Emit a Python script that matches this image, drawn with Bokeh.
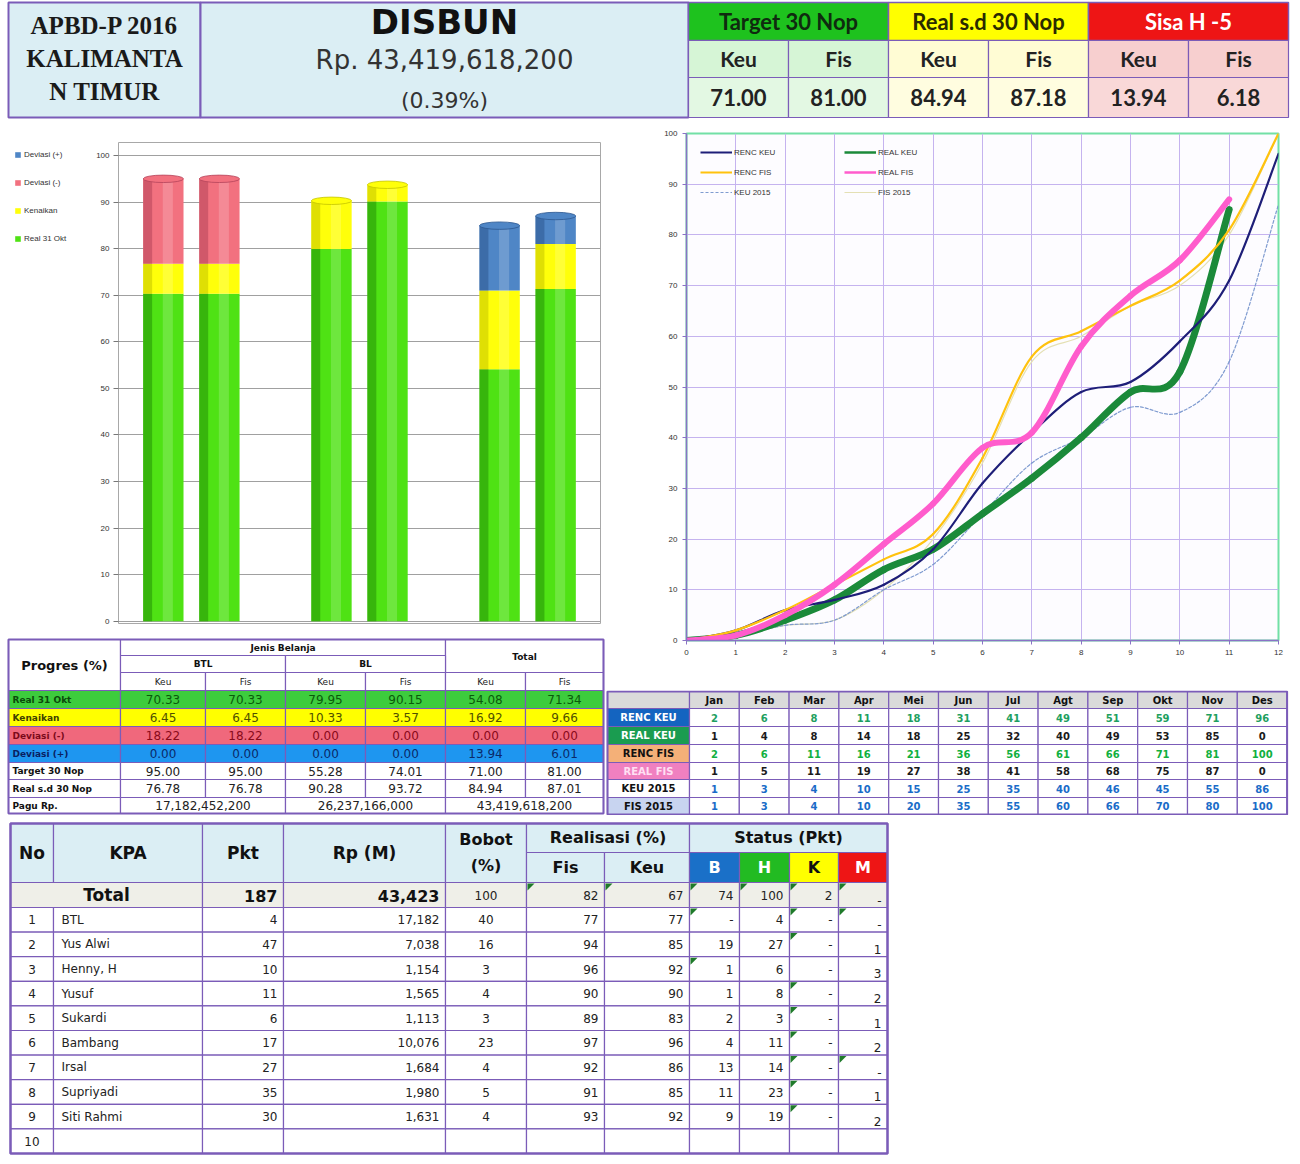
from bokeh.plotting import figure
from bokeh.layouts import column, row
from bokeh.models import (ColumnDataSource, FactorRange, Range1d, FixedTicker,
                          Legend, LegendItem)
from bokeh.core.properties import value
from bokeh.embed import file_html
from bokeh.resources import INLINE

# ---------------- DATA ----------------
title_left = ["APBD-P 2016", "KALIMANTA", "N TIMUR"]
title_main = "DISBUN"
pagu_text = "Rp. 43,419,618,200"
pagu_pct = "(0.39%)"
kpi_groups = ["Target 30 Nop", "Real s.d 30 Nop", "Sisa H -5"]
kpi_sub = ["Keu", "Fis"]
kpi_values = [[71.00, 81.00], [84.94, 87.18], [13.94, 6.18]]

groups = ["BTL", "BL", "Total"]
kinds = ["Keu", "Fis"]
real_31okt = [70.33, 70.33, 79.95, 90.15, 54.08, 71.34]
kenaikan = [6.45, 6.45, 10.33, 3.57, 16.92, 9.66]
deviasi_min = [18.22, 18.22, 0.00, 0.00, 0.00, 0.00]
deviasi_plus = [0.00, 0.00, 0.00, 0.00, 13.94, 6.01]
target_30nop = [95.00, 95.00, 55.28, 74.01, 71.00, 81.00]
real_sd_30nop = [76.78, 76.78, 90.28, 93.72, 84.94, 87.01]
pagu_rp = ["17,182,452,200", "26,237,166,000", "43,419,618,200"]
stack_labels = ["Real 31 Okt", "Kenaikan", "Deviasi (-)", "Deviasi (+)"]
prog_labels = ["Real 31 Okt", "Kenaikan", "Deviasi (-)", "Deviasi (+)",
               "Target 30 Nop", "Real s.d 30 Nop"]

months = ["Jan", "Feb", "Mar", "Apr", "Mei", "Jun", "Jul", "Agt", "Sep", "Okt", "Nov", "Des"]
renc_keu = [2, 6, 8, 11, 18, 31, 41, 49, 51, 59, 71, 96]
real_keu = [1, 4, 8, 14, 18, 25, 32, 40, 49, 53, 85, 0]
renc_fis = [2, 6, 11, 16, 21, 36, 56, 61, 66, 71, 81, 100]
real_fis = [1, 5, 11, 19, 27, 38, 41, 58, 68, 75, 87, 0]
keu_2015 = [1, 3, 4, 10, 15, 25, 35, 40, 46, 45, 55, 86]
fis_2015 = [1, 3, 4, 10, 20, 35, 55, 60, 66, 70, 80, 100]
series_names = ["RENC KEU", "REAL KEU", "RENC FIS", "REAL FIS", "KEU 2015", "FIS 2015"]
months_done = 11  # realisation known up to Nov

kpa_no = [1, 2, 3, 4, 5, 6, 7, 8, 9, 10]
kpa_name = ["BTL", "Yus Alwi", "Henny, H", "Yusuf", "Sukardi", "Bambang", "Irsal",
            "Supriyadi", "Siti Rahmi", ""]
kpa_pkt = [4, 47, 10, 11, 6, 17, 27, 35, 30, None]
kpa_rp = [17182, 7038, 1154, 1565, 1113, 10076, 1684, 1980, 1631, None]
kpa_bobot = [40, 16, 3, 4, 3, 23, 4, 5, 4, None]
kpa_fis = [77, 94, 96, 90, 89, 97, 92, 91, 93, None]
kpa_keu = [77, 85, 92, 90, 83, 96, 86, 85, 92, None]
st_b = [0, 19, 1, 1, 2, 4, 13, 11, 9, None]
st_h = [4, 27, 6, 8, 3, 11, 14, 23, 19, None]
st_k = [0, 0, 0, 0, 0, 0, 0, 0, 0, None]
st_m = [0, 1, 3, 2, 1, 2, 0, 1, 2, None]
total_vals = [187, 43423, 100, 82, 67, 74, 100, 2, 0]
comment_flags = [(0, 5), (0, 6), (0, 7), (0, 8), (0, 9), (0, 10),
                 (1, 7), (1, 9), (1, 10), (2, 9), (3, 7), (4, 9), (5, 9),
                 (6, 9), (7, 9), (7, 10), (8, 9), (9, 9)]

# ---------------- HELPERS ----------------
PURPLE = "#7b5cb8"


def table_fig(w, h):
    p = figure(width=w, height=h, x_range=Range1d(0, w), y_range=Range1d(h, 0),
               output_backend="svg", toolbar_location=None, min_border=0)
    p.axis.visible = False
    p.grid.visible = False
    p.outline_line_color = None
    p.background_fill_color = "white"
    p.border_fill_color = "white"
    return p


def cells(p, l, r, t, b, fill, line=PURPLE, lw=1.2):
    p.quad(left=l, right=r, top=t, bottom=b, fill_color=fill, line_color=line, line_width=lw)


def txt(p, xs, ys, texts, size, color="#222", font="DejaVu Sans", style="normal",
        align="center", baseline="middle"):
    p.text(x=xs, y=ys, text=texts, text_font=value(font), text_font_size=value(size),
           text_color=color, text_font_style=style, text_align=align, text_baseline=baseline)


def fmt_dash(v):
    if v is None:
        return ""
    return "-" if v == 0 else f"{v:,}"


# ---------------- HEADER ----------------
ph = table_fig(1292, 120)
cells(ph, [8, 200], [200, 688], [2, 2], [117, 117], ["#dbeef4", "#dbeef4"], lw=2)
txt(ph, [104, 104, 104], [25, 58, 91], title_left, "25px", "#1a1a1a", "Liberation Serif", "bold")
txt(ph, [444], [21], [title_main], "34px", "#111", "DejaVu Sans", "bold")
txt(ph, [444], [59], [pagu_text], "26px", "#333")
txt(ph, [444], [100], [pagu_pct], "22px", "#333")
title_fill = ["#1ec21e", "#ffff00", "#ee1515"]
title_col = ["#0f2a0f", "#2a2a00", "#ffffff"]
sub_fill = ["#d6f5d6", "#fffcd4", "#f7cfcf"]
val_fill = ["#e3f8e3", "#fffde0", "#f9d8d8"]
for gi, gname in enumerate(kpi_groups):
    x0 = 688 + gi * 200
    cells(ph, [x0], [x0 + 200], [2], [40], title_fill[gi], lw=1.5)
    cells(ph, [x0, x0 + 100], [x0 + 100, x0 + 200], [40, 40], [77, 77], sub_fill[gi])
    cells(ph, [x0, x0 + 100], [x0 + 100, x0 + 200], [77, 77], [117, 117], val_fill[gi])
    txt(ph, [x0 + 100], [21], [gname], "22px", title_col[gi], "Lato", "bold")
    txt(ph, [x0 + 50, x0 + 150], [58, 58], kpi_sub, "21px", "#222", "Lato", "bold")
    txt(ph, [x0 + 50, x0 + 150], [97, 97], [f"{v:.2f}" for v in kpi_values[gi]],
        "22px", "#222", "Lato", "bold")

# ---------------- BAR CHART ----------------
factors = [(g, k) for g in groups for k in kinds]
stack_cols = ["real", "naik", "devm", "devp"]
stack_fill = ["#4fe214", "#ffff0a", "#f2717f", "#4f86c6"]
stack_dark = ["#249006", "#c4c400", "#b4445a", "#2d5890"]
src = ColumnDataSource(dict(
    x=factors,
    xl=[f + (-0.28,) for f in factors],
    xh=[f + (0.08,) for f in factors],
    real=real_31okt, naik=kenaikan, devm=deviasi_min, devp=deviasi_plus))

xr = FactorRange(factors=factors, group_padding=1.0, factor_padding=0.0,
                 range_padding=0.3, range_padding_units="absolute")
pb = figure(width=515, height=515, x_range=xr, y_range=Range1d(-0.5, 102.8),
            output_backend="svg", toolbar_location=None,
            min_border_left=28, min_border_right=5, min_border_top=22, min_border_bottom=12)
pb.xaxis.visible = False
pb.xgrid.visible = False
pb.background_fill_color = "white"
pb.border_fill_color = "white"
pb.outline_line_color = "#a8a8a8"
ticks100 = list(range(0, 101, 10))
pb.yaxis.ticker = FixedTicker(ticks=ticks100)
pb.ygrid.ticker = FixedTicker(ticks=ticks100)
pb.ygrid.grid_line_color = "#a0a0a0"
pb.yaxis.axis_line_color = None
pb.yaxis.major_tick_line_color = "#777"
pb.yaxis.major_tick_out = 5
pb.yaxis.major_tick_in = 0
pb.yaxis.minor_tick_line_color = None
pb.yaxis.major_label_text_font_size = "8px"
pb.yaxis.major_label_text_color = "#333"
pb.yaxis.major_label_standoff = 4

pb.vbar_stack(stack_cols, x="x", width=0.72, fill_color=stack_fill, line_color=None, source=src)
pb.vbar_stack(stack_cols, x="xl", width=0.16, fill_color=stack_dark, fill_alpha=0.55,
              line_color=None, source=src)
pb.vbar_stack(stack_cols, x="xh", width=0.18, fill_color=["white"] * 4, fill_alpha=0.18,
              line_color=None, source=src)
series_vals = [real_31okt, kenaikan, deviasi_min, deviasi_plus]
tops, top_fill, top_line = [], [], []
for i in range(len(factors)):
    seg = [s[i] for s in series_vals]
    tops.append(sum(seg))
    last = max(j for j, v in enumerate(seg) if v > 0)
    top_fill.append(stack_fill[last])
    top_line.append(stack_dark[last])
pb.ellipse(x=factors, y=tops, width=0.72, height=1.6, fill_color=top_fill,
           line_color=top_line, line_width=0.8)

# legend panel to the left of the axis: same stacked series (hidden), used only for the legend
plg = figure(width=90, height=515, x_range=FactorRange(factors=factors),
             y_range=Range1d(-0.5, 102.8), output_backend="svg", toolbar_location=None,
             min_border_left=6, min_border_right=0, min_border_top=22, min_border_bottom=12)
plg.axis.visible = False
plg.grid.visible = False
plg.outline_line_color = None
plg.background_fill_color = "white"
plg.border_fill_color = "white"
rs = plg.vbar_stack(stack_cols, x="x", width=0.72, fill_color=stack_fill, line_color=None,
                    source=src)
for r in rs:
    r.visible = False
leg_b = Legend(items=[LegendItem(label=stack_labels[i], renderers=[rs[i]]) for i in [3, 2, 1, 0]],
               location="top_left", label_text_font_size="8px", label_text_color="#333",
               glyph_width=7, glyph_height=7, spacing=19, padding=6, margin=8,
               label_standoff=3, border_line_color=None, background_fill_alpha=0,
               inactive_fill_alpha=0, click_policy="none")
plg.add_layout(leg_b)

# ---------------- PROGRESS TABLE ----------------
pp = table_fig(605, 180)
cx = [8, 120, 205, 285, 365, 445, 525, 603]
ry = [4, 20, 37, 55, 73, 91, 109, 127, 144, 162, 178]
ccen = [(cx[i] + cx[i + 1]) / 2 for i in range(1, 7)]
cells(pp, [cx[0], cx[1], cx[5]], [cx[1], cx[5], cx[7]], [4, 4, 4], [55, 20, 37], "white")
cells(pp, [cx[1], cx[3]], [cx[3], cx[5]], [20, 20], [37, 37], "white")
cells(pp, cx[1:7], cx[2:8], [37] * 6, [55] * 6, "white")
txt(pp, [(cx[0] + cx[1]) / 2], [30], ["Progres (%)"], "13px", "#111", style="bold")
txt(pp, [(cx[1] + cx[5]) / 2], [12], ["Jenis Belanja"], "9px", "#111", style="bold")
txt(pp, [(cx[5] + cx[7]) / 2], [21], [groups[2]], "9px", "#111", style="bold")
txt(pp, [(cx[1] + cx[3]) / 2, (cx[3] + cx[5]) / 2], [28.5, 28.5], groups[:2], "9px", "#111",
    style="bold")
txt(pp, ccen, [46] * 6, kinds * 3, "9px", "#222")
row_fill = ["#3dcc3d", "#ffff00", "#f0687c", "#1e96f0", "white", "white"]
row_lab_col = ["#0a4a0a", "#404000", "#7a0a1a", "#0a2060", "#111", "#111"]
row_val_col = ["#0a5a0a", "#505000", "#8a0a1a", "#0a2a6a", "#222", "#222"]
prog_vals = [real_31okt, kenaikan, deviasi_min, deviasi_plus, target_30nop, real_sd_30nop]
for ri, (lab, vals) in enumerate(zip(prog_labels, prog_vals)):
    t, b = ry[3 + ri], ry[4 + ri]
    cells(pp, cx[:7], cx[1:], [t] * 7, [b] * 7, row_fill[ri])
    txt(pp, [cx[0] + 4], [(t + b) / 2], [lab], "9px", row_lab_col[ri], style="bold", align="left")
    txt(pp, ccen, [(t + b) / 2] * 6, [f"{v:.2f}" for v in vals], "12px", row_val_col[ri])
t, b = ry[9], ry[10]
cells(pp, [cx[0], cx[1], cx[3], cx[5]], [cx[1], cx[3], cx[5], cx[7]], [t] * 4, [b] * 4, "white")
txt(pp, [cx[0] + 4], [(t + b) / 2], ["Pagu Rp."], "9px", "#111", style="bold", align="left")
txt(pp, [(cx[1] + cx[3]) / 2, (cx[3] + cx[5]) / 2, (cx[5] + cx[7]) / 2], [(t + b) / 2] * 3,
    pagu_rp, "12px", "#222")
pp.quad(left=[cx[0]], right=[cx[7]], top=[4], bottom=[178], fill_color=None, line_color=PURPLE,
        line_width=2)

# ---------------- LINE CHART ----------------
pl = figure(width=687, height=570, x_range=Range1d(0, 12), y_range=Range1d(0, 100),
            output_backend="svg", toolbar_location=None,
            min_border_left=81, min_border_right=14, min_border_top=13, min_border_bottom=50)
pl.background_fill_color = "#fdfcff"
pl.border_fill_color = "white"
pl.outline_line_color = "#72e0a6"
pl.outline_line_width = 2
pl.xaxis.ticker = FixedTicker(ticks=list(range(13)))
pl.xgrid.ticker = FixedTicker(ticks=list(range(13)))
pl.yaxis.ticker = FixedTicker(ticks=ticks100)
pl.ygrid.ticker = FixedTicker(ticks=ticks100)
pl.grid.grid_line_color = "#c5b3ef"
for ax in (pl.xaxis, pl.yaxis):
    ax.axis_line_color = "#8a72c6"
    ax.axis_line_width = 1.5
    ax.major_tick_line_color = "#8a72c6"
    ax.major_tick_out = 4
    ax.major_tick_in = 0
    ax.minor_tick_line_color = None
    ax.major_label_text_font_size = "8px"
    ax.major_label_text_color = "#333"


def bezier_src(xs, ys):
    n = len(xs)
    d = {k: [] for k in ["x0", "y0", "x1", "y1", "cx0", "cy0", "cx1", "cy1"]}
    for i in range(n - 1):
        a = i - 1 if i > 0 else i
        c = i + 2 if i + 2 < n else i + 1
        d["x0"].append(xs[i]); d["y0"].append(ys[i])
        d["x1"].append(xs[i + 1]); d["y1"].append(ys[i + 1])
        d["cx0"].append(xs[i] + (xs[i + 1] - xs[a]) / 6)
        d["cy0"].append(ys[i] + (ys[i + 1] - ys[a]) / 6)
        d["cx1"].append(xs[i + 1] - (xs[c] - xs[i]) / 6)
        d["cy1"].append(ys[i + 1] - (ys[c] - ys[i]) / 6)
    return ColumnDataSource(d)


series_data = {"RENC KEU": renc_keu, "REAL KEU": real_keu, "RENC FIS": renc_fis,
               "REAL FIS": real_fis, "KEU 2015": keu_2015, "FIS 2015": fis_2015}
series_style = {  # colour, width, dash, n months plotted
    "FIS 2015": ("#e4e0b4", 1.2, "solid", 12),
    "KEU 2015": ("#7f9bd0", 1.2, "3 2", 12),
    "REAL KEU": ("#1b8a3a", 7, "solid", months_done),
    "RENC KEU": ("#1e1e78", 2.2, "solid", 12),
    "RENC FIS": ("#ffc20e", 2.2, "solid", 12),
    "REAL FIS": ("#ff5ccc", 6, "solid", months_done),
}
legend_r = {}
for name in ["FIS 2015", "KEU 2015", "REAL KEU", "RENC KEU", "RENC FIS", "REAL FIS"]:
    col, lw, dash, n = series_style[name]
    xs = list(range(0, n + 1))
    ys = [0] + series_data[name][:n]
    pl.bezier(x0="x0", y0="y0", x1="x1", y1="y1", cx0="cx0", cy0="cy0", cx1="cx1", cy1="cy1",
              source=bezier_src(xs, ys), line_color=col, line_width=lw, line_dash=dash,
              line_cap="round")
    # single-point line: invisible on the plot, supplies the legend swatch
    legend_r[name] = pl.line(x=xs[:1], y=ys[:1], line_color=col, line_width=min(lw, 2.5),
                             line_dash=dash)
leg_order = ["RENC KEU", "RENC FIS", "KEU 2015", "REAL KEU", "REAL FIS", "FIS 2015"]
leg_l = Legend(items=[LegendItem(label=n, renderers=[legend_r[n]]) for n in leg_order],
               location="top_left", ncols=2, label_text_font_size="8px",
               label_text_color="#333", glyph_width=32, glyph_height=10, spacing=10,
               label_width=100, label_standoff=2, padding=4, margin=14,
               border_line_color=None, background_fill_alpha=0)
pl.add_layout(leg_l)

# ---------------- MONTH TABLE ----------------
pm = table_fig(687, 125)
mw = 49.8
mx0 = 84
mrow = [1, 18, 36, 54, 72, 89, 107, 124]
ml = [mx0 + i * mw for i in range(12)]
mr = [mx0 + (i + 1) * mw for i in range(12)]
mc = [(a + b) / 2 for a, b in zip(ml, mr)]
cells(pm, [2] + ml, [mx0] + mr, [mrow[0]] * 13, [mrow[1]] * 13, "#dadada")
txt(pm, mc, [(mrow[0] + mrow[1]) / 2] * 12, months, "10px", "#111", style="bold")
lab_fill = ["#1464c0", "#1a9c50", "#f4b078", "#f080c0", "#ffffff", "#c8d4f0"]
lab_col = ["#ffffff", "#ffffff", "#111111", "#ffe0f4", "#111111", "#111111"]
val_col = ["#1ea060", "#1a1a1a", "#10b040", "#1a1a1a", "#1a6cc8", "#1a6cc8"]
mvals = [renc_keu, real_keu, renc_fis, real_fis, keu_2015, fis_2015]
for ri, name in enumerate(series_names):
    t, b = mrow[ri + 1], mrow[ri + 2]
    cells(pm, [2], [mx0], [t], [b], lab_fill[ri])
    cells(pm, ml, mr, [t] * 12, [b] * 12, "white")
    txt(pm, [43], [(t + b) / 2], [name], "10px", lab_col[ri], style="bold")
    txt(pm, mc, [(t + b) / 2] * 12, [str(v) for v in mvals[ri]], "10px", val_col[ri],
        style="bold")
pm.quad(left=[2], right=[mr[-1]], top=[1], bottom=[124], fill_color=None, line_color=PURPLE,
        line_width=2)

# ---------------- KPA TABLE ----------------
pk = table_fig(900, 345)
kc = [10, 53, 202, 283, 445, 526, 604, 689, 739, 789, 838, 887]
hdr_fill = "#dbeef4"
cells(pk, kc[:5], kc[1:6], [8] * 5, [67] * 5, hdr_fill)
cells(pk, [kc[5], kc[7]], [kc[7], kc[11]], [8, 8], [37, 37], hdr_fill)
cells(pk, [kc[5], kc[6]], [kc[6], kc[7]], [37, 37], [67, 67], hdr_fill)
stat_fill = ["#1a70c8", "#22bb22", "#ffff00", "#ee1515"]
stat_col = ["white", "white", "#111", "white"]
cells(pk, kc[7:11], kc[8:12], [37] * 4, [67] * 4, stat_fill)
hc = [(kc[i] + kc[i + 1]) / 2 for i in range(11)]
txt(pk, hc[:4], [37] * 4, ["No", "KPA", "Pkt", "Rp (M)"], "17px", "#111", style="bold")
txt(pk, [hc[4], hc[4]], [24, 50], ["Bobot", "(%)"], "16px", "#111", style="bold")
txt(pk, [(kc[5] + kc[7]) / 2, (kc[7] + kc[11]) / 2], [22, 22], ["Realisasi (%)", "Status (Pkt)"],
    "16px", "#111", style="bold")
txt(pk, hc[5:7], [52, 52], ["Fis", "Keu"], "16px", "#111", style="bold")
txt(pk, hc[7:11], [52] * 4, ["B", "H", "K", "M"], "16px", stat_col, style="bold")

rh = 24.6
row_t = [67, 92] + [92 + (i + 1) * rh for i in range(10)]
cells(pk, [kc[0]] + kc[2:11], kc[2:12], [67] * 10, [92] * 10, "#efefe8")
txt(pk, [(kc[0] + kc[2]) / 2], [79.5], ["Total"], "17px", "#111", style="bold")
txt(pk, [kc[3] - 6, kc[4] - 6], [80, 80], [str(total_vals[0]), f"{total_vals[1]:,}"],
    "16px", "#111", style="bold", align="right")
txt(pk, [hc[4]], [79.5], [str(total_vals[2])], "12px", "#222")
txt(pk, [r - 6 for r in kc[6:11]], [79.5] * 5, [fmt_dash(v) for v in total_vals[3:8]],
    "12px", "#222", align="right")
txt(pk, [kc[11] - 6], [89], [fmt_dash(total_vals[8])], "12px", "#222", align="right",
    baseline="bottom")
for i in range(10):
    t, b = row_t[i + 1], row_t[i + 2]
    m = (t + b) / 2
    cells(pk, kc[:11], kc[1:], [t] * 11, [b] * 11, "white")
    txt(pk, [hc[0]], [m], [str(kpa_no[i])], "12px", "#222")
    txt(pk, [kc[1] + 8], [m], [kpa_name[i]], "12px", "#222", align="left")
    txt(pk, [kc[3] - 6, kc[4] - 6], [m, m], [fmt_dash(kpa_pkt[i]), fmt_dash(kpa_rp[i])],
        "12px", "#222", align="right")
    txt(pk, [hc[4]], [m], [fmt_dash(kpa_bobot[i])], "12px", "#222")
    txt(pk, [r - 6 for r in kc[6:10]], [m] * 4,
        [fmt_dash(kpa_fis[i]), fmt_dash(kpa_keu[i]), fmt_dash(st_b[i]), fmt_dash(st_h[i])],
        "12px", "#222", align="right")
    txt(pk, [kc[10] - 6], [m], [fmt_dash(st_k[i])], "12px", "#222", align="right")
    txt(pk, [kc[11] - 6], [b - 3], [fmt_dash(st_m[i])], "12px", "#222", align="right",
        baseline="bottom")
fx, fy = [], []
for (ri, ci) in comment_flags:
    l, t = kc[ci], row_t[ri]
    fx.append([l + 1, l + 8, l + 1])
    fy.append([t + 1, t + 1, t + 8])
pk.patches(xs=fx, ys=fy, fill_color="#1f7a2a", line_color=None)
pk.quad(left=[kc[0]], right=[kc[11]], top=[8], bottom=[row_t[-1]], fill_color=None,
        line_color=PURPLE, line_width=2.5)

# ---------------- LAYOUT ----------------
left_col = column(row(plg, pb, spacing=0), row(pp, spacing=0), spacing=0)
right_col = column(row(pl, spacing=0), row(pm, spacing=0), spacing=0)
layout = column(row(ph, spacing=0), row(left_col, right_col, spacing=0),
                row(pk, spacing=0), spacing=0)
open("out.html", "w").write(file_html(layout, INLINE))
